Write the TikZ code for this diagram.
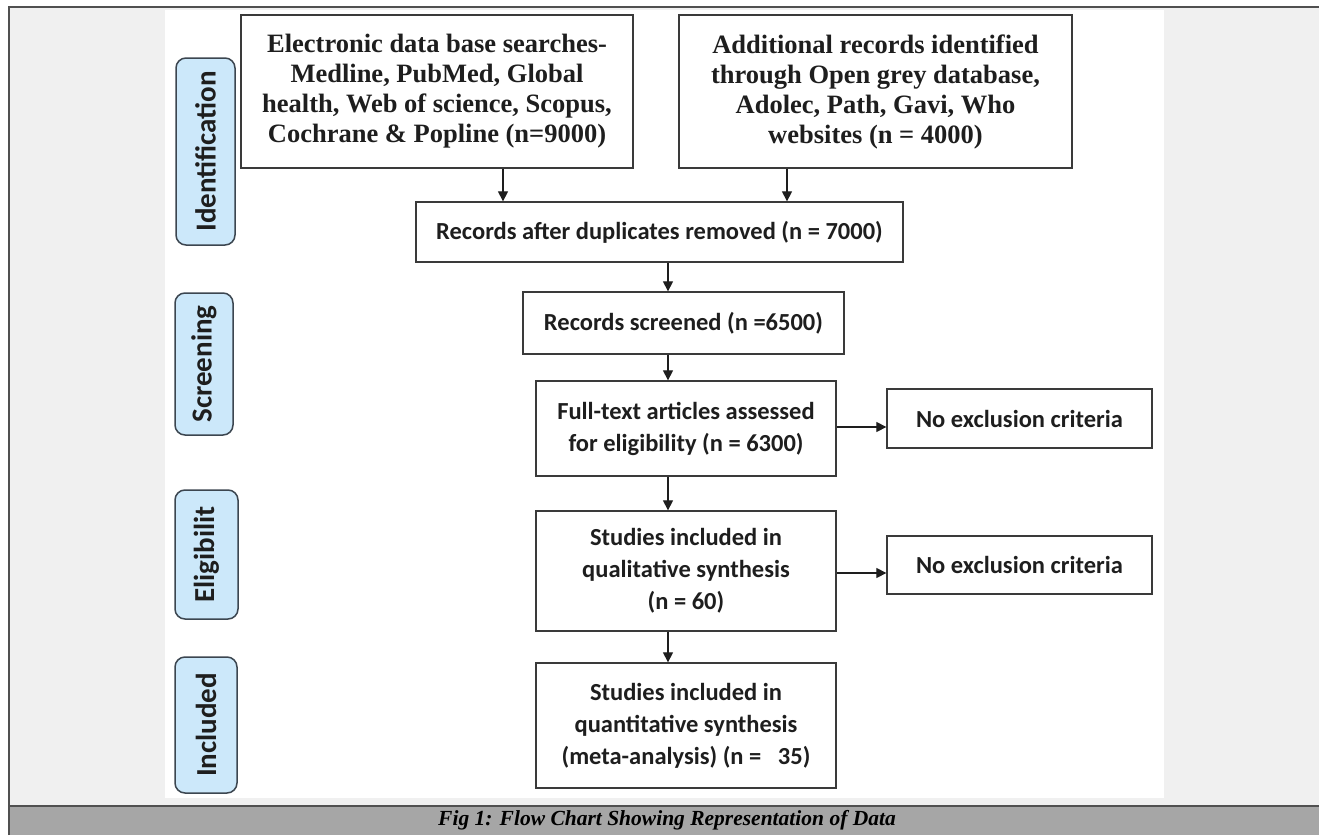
\documentclass[tikz,border=0pt]{standalone}
\usepackage{fontspec}
\setmainfont{Liberation Serif}
\newfontfamily\calfont{Carlito}
\usetikzlibrary{arrows.meta}
\definecolor{frameline}{HTML}{505050}
\definecolor{bggrey}{HTML}{F0F0F0}
\definecolor{capgrey}{HTML}{A6A6A6}
\definecolor{boxline}{HTML}{3A3A3A}
\definecolor{txt}{HTML}{1E1E1E}
\definecolor{phasefill}{HTML}{CCE8FA}
\definecolor{phaseline}{HTML}{3C4650}
\tikzset{
  box/.style={draw=boxline, line width=1.3pt, fill=white, text=txt, align=center, inner sep=0pt},
  serifbox/.style={box, font=\bfseries\fontsize{26.5}{30}\selectfont},
  calbox/.style={box, font=\calfont\bfseries\fontsize{24.5}{32}\selectfont},
  phase/.style={draw=phaseline, line width=1.5pt, fill=phasefill, rounded corners=10pt, rotate=90, text=txt,
    font=\calfont\bfseries\fontsize{29}{30}\selectfont, inner sep=0pt},
  arr/.style={draw=txt, line width=1.2pt, -{Triangle[length=10pt,width=10pt]}},
}
\begin{document}
\begin{tikzpicture}[x=1pt,y=-1pt]
\useasboundingbox (0,0) rectangle (1319,835);
\fill[white] (0,0) rectangle (1319,835);
\fill[bggrey] (9,7) rectangle (1319,806);
\fill[white] (165,10) rectangle (1164,798);
\fill[capgrey] (9,806) rectangle (1319,835);
\draw[frameline, line width=1.5pt] (9,835) -- (9,7) -- (1319,7);
\draw[frameline, line width=2pt] (9,806) -- (1319,806);
\node[font=\bfseries\itshape\fontsize{21.5}{24}\selectfont, text=black] (cap) at (667,820) {Fig 1: Flow Chart Showing Representation of Data};

% phase labels
\node[phase, minimum width=187pt, minimum height=59pt] (pid) at (205.5,151.5) {Identification};
\node[phase, minimum width=142pt, minimum height=58pt] (psc) at (204,364) {Screening};
\node[phase, minimum width=129pt, minimum height=63pt] (pel) at (206.5,554.5) {Eligibilit};
\node[phase, minimum width=136pt, minimum height=62pt] (pin) at (206,725) {Included};

% boxes
\node[serifbox, minimum width=392pt, minimum height=153pt] (b1) at (437,91.5)
  {Electronic data base searches-\\Medline, PubMed, Global\\health, Web of science, Scopus,\\Cochrane \& Popline (n=9000)};
\node[serifbox, minimum width=393pt, minimum height=153pt] (b2) at (875.5,91.5)
  {Additional records identified\\through Open grey database,\\Adolec, Path, Gavi, Who\\websites (n = 4000)};
\node[calbox, minimum width=487pt, minimum height=60pt] (b3) at (659.5,232)
  {Records after duplicates removed (n = 7000)};
\node[calbox, minimum width=321pt, minimum height=62pt] (b4) at (683.5,323)
  {Records screened (n =6500)};
\node[calbox, minimum width=300pt, minimum height=95pt] (b5) at (686,428.5)
  {Full-text articles assessed\\for eligibility (n = 6300)};
\node[calbox, minimum width=300pt, minimum height=120pt] (b6) at (686,571)
  {Studies included in\\qualitative synthesis\\(n = 60)};
\node[calbox, minimum width=300pt, minimum height=125pt] (b7) at (686,725.5)
  {Studies included in\\quantitative synthesis\\(meta-analysis) (n = \ \ 35)};
\node[calbox, minimum width=265pt, minimum height=59pt] (e1) at (1019.5,418.5)
  {No exclusion criteria};
\node[calbox, minimum width=265pt, minimum height=58pt] (e2) at (1019.5,565)
  {No exclusion criteria};

% connectors
\coordinate (xa) at (503,0);
\coordinate (xb) at (787,0);
\coordinate (xc) at (668,0);
\coordinate (ya) at (0,427);
\coordinate (yb) at (0,573);
\draw[arr] (xa |- b1.south) -- (xa |- b3.north);
\draw[arr] (xb |- b2.south) -- (xb |- b3.north);
\draw[arr] (xc |- b3.south) -- (xc |- b4.north);
\draw[arr] (xc |- b4.south) -- (xc |- b5.north);
\draw[arr] (xc |- b5.south) -- (xc |- b6.north);
\draw[arr] (xc |- b6.south) -- (xc |- b7.north);
\draw[arr] (b5.east |- ya) -- (e1.west |- ya);
\draw[arr] (b6.east |- yb) -- (e2.west |- yb);
\end{tikzpicture}
\end{document}
